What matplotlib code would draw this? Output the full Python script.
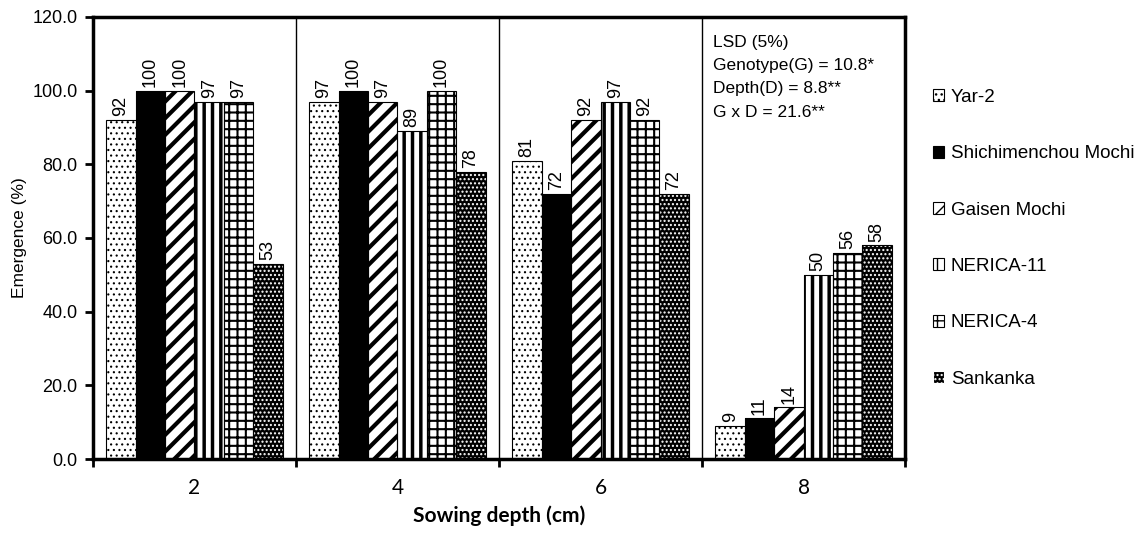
import numpy as np
import matplotlib
matplotlib.use('Agg')
import matplotlib.pyplot as plt
from matplotlib.patches import Patch

depths = ['2', '4', '6', '8']
genotypes = ['Yar-2', 'Shichimenchou Mochi', 'Gaisen Mochi', 'NERICA-11', 'NERICA-4', 'Sankanka']
yar2 = [92, 97, 81, 9]
shichimenchou = [100, 100, 72, 11]
gaisen = [100, 97, 92, 14]
nerica11 = [97, 89, 97, 50]
nerica4 = [97, 100, 92, 56]
sankanka = [53, 78, 72, 58]
series = [yar2, shichimenchou, gaisen, nerica11, nerica4, sankanka]
lsd_text = 'LSD (5%)\nGenotype(G) = 10.8*\nDepth(D) = 8.8**\nG x D = 21.6**'

# face, hatch colour, hatch, hatch linewidth
styles = [
    ('white', 'black', '...', 0.8),
    ('black', 'black', '', 1.0),
    ('white', 'black', '//', 3.0),
    ('white', 'black', '||', 2.5),
    ('white', 'black', '++', 1.5),
    ('black', 'white', '....', 1.0),
]

plt.rcParams['font.family'] = ['Liberation Sans', 'DejaVu Sans']

fig = plt.figure(figsize=(11.42, 5.39), dpi=100)
ax = fig.add_axes([0.0814, 0.1484, 0.7111, 0.8201])

x = np.arange(len(depths))
width = 0.1446
for i, (vals, (face, hcol, hatch, hlw)) in enumerate(zip(series, styles)):
    pos = x + (i - 2.5) * width
    with plt.rc_context({'hatch.linewidth': hlw}):
        ax.bar(pos, vals, width, color=face, edgecolor=hcol, hatch=hatch, linewidth=0, zorder=2)
    ax.bar(pos, vals, width, fill=False, edgecolor='black', linewidth=0.8, zorder=3)
    for p, v in zip(pos, vals):
        ax.text(p, v + 1.0, '%d' % v, rotation=90, ha='center', va='bottom', fontsize=13)

for sep in [0.5, 1.5, 2.5]:
    ax.axvline(sep, color='black', linewidth=1, zorder=1)

ax.set_xlim(-0.5, 3.5)
ax.set_ylim(0, 120)
ax.set_yticks(np.arange(0, 121, 20))
ax.set_yticklabels(['%.1f' % t for t in np.arange(0, 121, 20)], fontsize=13)
ax.set_xticks(x)
ax.set_xticklabels(depths, fontsize=15, family=['Lato', 'DejaVu Sans'])
ax.set_xticks([-0.5, 0.5, 1.5, 2.5, 3.5], minor=True)
ax.tick_params(axis='x', which='major', length=0, pad=14)
ax.tick_params(axis='x', which='minor', length=6, width=2, direction='out')
ax.tick_params(axis='y', length=6, width=2, direction='out', pad=5)
for s in ax.spines.values():
    s.set_linewidth(2.5)

ax.set_ylabel('Emergence (%)', fontsize=12.5, labelpad=4)
ax.set_xlabel('Sowing depth (cm)', fontsize=15, fontweight='bold', family=['Lato', 'DejaVu Sans'], labelpad=5)

ax.text(0.764, 0.96, lsd_text, transform=ax.transAxes, ha='left', va='top', fontsize=12.5,
        linespacing=1.7)

handles = []
for name, (face, hcol, hatch, hlw) in zip(genotypes, styles):
    handles.append(Patch(facecolor=face, edgecolor=hcol, hatch=hatch, linewidth=0.8, label=name))
fig.legend(handles=handles, loc='upper left', bbox_to_anchor=(0.817, 0.835), frameon=False,
           fontsize=13.5, handlelength=0.6, handleheight=0.6, handletextpad=0.35, labelspacing=2.1,
           borderaxespad=0, borderpad=0)

fig.savefig('out.png', dpi=100)
